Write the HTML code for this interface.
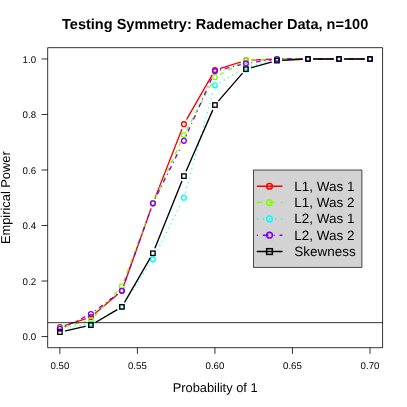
<!DOCTYPE html>
<html><head><meta charset="utf-8"><title>Testing Symmetry</title>
<style>html,body{margin:0;padding:0;background:#fff}body{width:407px;height:407px;overflow:hidden}</style></head>
<body>
<svg width="407" height="407" viewBox="0 0 407 407" style="display:block;will-change:transform;text-rendering:geometricPrecision;font-family:'Liberation Sans',sans-serif">
<rect width="407" height="407" fill="#fff"/>
<line x1="65.41" y1="325.33" x2="85.36" y2="318.90" stroke="#FF0000" stroke-width="1.35" stroke-linecap="round"/>
<line x1="95.32" y1="313.35" x2="117.47" y2="294.51" stroke="#FF0000" stroke-width="1.35" stroke-linecap="round"/>
<line x1="123.84" y1="285.27" x2="150.97" y2="208.78" stroke="#FF0000" stroke-width="1.35" stroke-linecap="round"/>
<line x1="155.03" y1="197.89" x2="181.80" y2="129.60" stroke="#FF0000" stroke-width="1.35" stroke-linecap="round"/>
<line x1="186.81" y1="119.14" x2="212.04" y2="75.10" stroke="#FF0000" stroke-width="1.35" stroke-linecap="round"/>
<line x1="220.48" y1="68.32" x2="240.39" y2="62.08" stroke="#FF0000" stroke-width="1.35" stroke-linecap="round"/>
<line x1="251.75" y1="60.08" x2="271.14" y2="59.21" stroke="#FF0000" stroke-width="1.35" stroke-linecap="round"/>
<line x1="282.76" y1="58.95" x2="302.14" y2="58.95" stroke="#FF0000" stroke-width="1.35" stroke-linecap="round"/>
<line x1="313.77" y1="58.95" x2="333.15" y2="58.95" stroke="#FF0000" stroke-width="1.35" stroke-linecap="round"/>
<line x1="344.78" y1="58.95" x2="364.16" y2="58.95" stroke="#FF0000" stroke-width="1.35" stroke-linecap="round"/>
<circle cx="59.88" cy="327.11" r="2.40" fill="none" stroke="#FF0000" stroke-width="1.35"/>
<circle cx="90.89" cy="317.12" r="2.40" fill="none" stroke="#FF0000" stroke-width="1.35"/>
<circle cx="121.90" cy="290.75" r="2.40" fill="none" stroke="#FF0000" stroke-width="1.35"/>
<circle cx="152.91" cy="203.30" r="2.40" fill="none" stroke="#FF0000" stroke-width="1.35"/>
<circle cx="183.92" cy="124.19" r="2.40" fill="none" stroke="#FF0000" stroke-width="1.35"/>
<circle cx="214.93" cy="70.05" r="2.40" fill="none" stroke="#FF0000" stroke-width="1.35"/>
<circle cx="245.94" cy="60.34" r="2.40" fill="none" stroke="#FF0000" stroke-width="1.35"/>
<circle cx="276.95" cy="58.95" r="2.40" fill="none" stroke="#FF0000" stroke-width="1.35"/>
<circle cx="307.96" cy="58.95" r="2.40" fill="none" stroke="#FF0000" stroke-width="1.35"/>
<circle cx="338.97" cy="58.95" r="2.40" fill="none" stroke="#FF0000" stroke-width="1.35"/>
<circle cx="369.98" cy="58.95" r="2.40" fill="none" stroke="#FF0000" stroke-width="1.35"/>
<line x1="65.50" y1="326.71" x2="85.28" y2="321.40" stroke="#80FF00" stroke-width="1.35" stroke-dasharray="3.63,6.06" stroke-linecap="round"/>
<line x1="94.83" y1="315.62" x2="117.96" y2="290.58" stroke="#80FF00" stroke-width="1.35" stroke-dasharray="3.63,6.06" stroke-linecap="round"/>
<line x1="123.93" y1="280.86" x2="150.87" y2="208.75" stroke="#80FF00" stroke-width="1.35" stroke-dasharray="3.63,6.06" stroke-linecap="round"/>
<line x1="155.31" y1="198.01" x2="181.52" y2="140.31" stroke="#80FF00" stroke-width="1.35" stroke-dasharray="3.63,6.06" stroke-linecap="round"/>
<line x1="186.67" y1="129.89" x2="212.18" y2="82.39" stroke="#80FF00" stroke-width="1.35" stroke-dasharray="3.63,6.06" stroke-linecap="round"/>
<line x1="220.03" y1="74.48" x2="240.84" y2="63.12" stroke="#80FF00" stroke-width="1.35" stroke-dasharray="3.63,6.06" stroke-linecap="round"/>
<line x1="251.75" y1="60.08" x2="271.14" y2="59.21" stroke="#80FF00" stroke-width="1.35" stroke-dasharray="3.63,6.06" stroke-linecap="round"/>
<line x1="282.76" y1="58.95" x2="302.14" y2="58.95" stroke="#80FF00" stroke-width="1.35" stroke-dasharray="3.63,6.06" stroke-linecap="round"/>
<line x1="313.77" y1="58.95" x2="333.15" y2="58.95" stroke="#80FF00" stroke-width="1.35" stroke-dasharray="3.63,6.06" stroke-linecap="round"/>
<line x1="344.78" y1="58.95" x2="364.16" y2="58.95" stroke="#80FF00" stroke-width="1.35" stroke-dasharray="3.63,6.06" stroke-linecap="round"/>
<circle cx="59.88" cy="328.22" r="2.40" fill="none" stroke="#80FF00" stroke-width="1.35"/>
<circle cx="90.89" cy="319.89" r="2.40" fill="none" stroke="#80FF00" stroke-width="1.35"/>
<circle cx="121.90" cy="286.30" r="2.40" fill="none" stroke="#80FF00" stroke-width="1.35"/>
<circle cx="152.91" cy="203.30" r="2.40" fill="none" stroke="#80FF00" stroke-width="1.35"/>
<circle cx="183.92" cy="135.01" r="2.40" fill="none" stroke="#80FF00" stroke-width="1.35"/>
<circle cx="214.93" cy="77.27" r="2.40" fill="none" stroke="#80FF00" stroke-width="1.35"/>
<circle cx="245.94" cy="60.34" r="2.40" fill="none" stroke="#80FF00" stroke-width="1.35"/>
<circle cx="276.95" cy="58.95" r="2.40" fill="none" stroke="#80FF00" stroke-width="1.35"/>
<circle cx="307.96" cy="58.95" r="2.40" fill="none" stroke="#80FF00" stroke-width="1.35"/>
<circle cx="338.97" cy="58.95" r="2.40" fill="none" stroke="#80FF00" stroke-width="1.35"/>
<circle cx="369.98" cy="58.95" r="2.40" fill="none" stroke="#80FF00" stroke-width="1.35"/>
<line x1="65.63" y1="327.62" x2="85.14" y2="324.66" stroke="#00FFFF" stroke-width="1.35" stroke-dasharray="0.00,4.85" stroke-linecap="round"/>
<line x1="95.99" y1="320.99" x2="116.80" y2="309.63" stroke="#00FFFF" stroke-width="1.35" stroke-dasharray="0.00,4.85" stroke-linecap="round"/>
<line x1="125.08" y1="301.98" x2="149.73" y2="264.24" stroke="#00FFFF" stroke-width="1.35" stroke-dasharray="0.00,4.85" stroke-linecap="round"/>
<line x1="155.52" y1="254.18" x2="181.31" y2="202.94" stroke="#00FFFF" stroke-width="1.35" stroke-dasharray="0.00,4.85" stroke-linecap="round"/>
<line x1="185.46" y1="192.15" x2="213.38" y2="90.93" stroke="#00FFFF" stroke-width="1.35" stroke-dasharray="0.00,4.85" stroke-linecap="round"/>
<line x1="219.97" y1="82.43" x2="240.89" y2="70.45" stroke="#00FFFF" stroke-width="1.35" stroke-dasharray="0.00,4.85" stroke-linecap="round"/>
<line x1="251.54" y1="66.00" x2="271.35" y2="60.50" stroke="#00FFFF" stroke-width="1.35" stroke-dasharray="0.00,4.85" stroke-linecap="round"/>
<line x1="282.76" y1="58.95" x2="302.14" y2="58.95" stroke="#00FFFF" stroke-width="1.35" stroke-dasharray="0.00,4.85" stroke-linecap="round"/>
<line x1="313.77" y1="58.95" x2="333.15" y2="58.95" stroke="#00FFFF" stroke-width="1.35" stroke-dasharray="0.00,4.85" stroke-linecap="round"/>
<line x1="344.78" y1="58.95" x2="364.16" y2="58.95" stroke="#00FFFF" stroke-width="1.35" stroke-dasharray="0.00,4.85" stroke-linecap="round"/>
<circle cx="59.88" cy="328.50" r="2.40" fill="none" stroke="#00FFFF" stroke-width="1.35"/>
<circle cx="90.89" cy="323.78" r="2.40" fill="none" stroke="#00FFFF" stroke-width="1.35"/>
<circle cx="121.90" cy="306.85" r="2.40" fill="none" stroke="#00FFFF" stroke-width="1.35"/>
<circle cx="152.91" cy="259.38" r="2.40" fill="none" stroke="#00FFFF" stroke-width="1.35"/>
<circle cx="183.92" cy="197.75" r="2.40" fill="none" stroke="#00FFFF" stroke-width="1.35"/>
<circle cx="214.93" cy="85.32" r="2.40" fill="none" stroke="#00FFFF" stroke-width="1.35"/>
<circle cx="245.94" cy="67.56" r="2.40" fill="none" stroke="#00FFFF" stroke-width="1.35"/>
<circle cx="276.95" cy="58.95" r="2.40" fill="none" stroke="#00FFFF" stroke-width="1.35"/>
<circle cx="307.96" cy="58.95" r="2.40" fill="none" stroke="#00FFFF" stroke-width="1.35"/>
<circle cx="338.97" cy="58.95" r="2.40" fill="none" stroke="#00FFFF" stroke-width="1.35"/>
<circle cx="369.98" cy="58.95" r="2.40" fill="none" stroke="#00FFFF" stroke-width="1.35"/>
<line x1="65.13" y1="326.28" x2="85.64" y2="316.56" stroke="#8000FF" stroke-width="1.35" stroke-dasharray="0.00,4.85,3.63,4.85" stroke-linecap="round"/>
<line x1="95.54" y1="310.57" x2="117.25" y2="294.24" stroke="#8000FF" stroke-width="1.35" stroke-dasharray="0.00,4.85,3.63,4.85" stroke-linecap="round"/>
<line x1="123.84" y1="285.27" x2="150.97" y2="208.78" stroke="#8000FF" stroke-width="1.35" stroke-dasharray="0.00,4.85,3.63,4.85" stroke-linecap="round"/>
<line x1="155.50" y1="198.09" x2="181.33" y2="146.05" stroke="#8000FF" stroke-width="1.35" stroke-dasharray="0.00,4.85,3.63,4.85" stroke-linecap="round"/>
<line x1="186.28" y1="135.53" x2="212.56" y2="76.48" stroke="#8000FF" stroke-width="1.35" stroke-dasharray="0.00,4.85,3.63,4.85" stroke-linecap="round"/>
<line x1="220.57" y1="69.75" x2="240.30" y2="64.81" stroke="#8000FF" stroke-width="1.35" stroke-dasharray="0.00,4.85,3.63,4.85" stroke-linecap="round"/>
<line x1="251.69" y1="62.57" x2="271.19" y2="59.77" stroke="#8000FF" stroke-width="1.35" stroke-dasharray="0.00,4.85,3.63,4.85" stroke-linecap="round"/>
<line x1="282.76" y1="58.95" x2="302.14" y2="58.95" stroke="#8000FF" stroke-width="1.35" stroke-dasharray="0.00,4.85,3.63,4.85" stroke-linecap="round"/>
<line x1="313.77" y1="58.95" x2="333.15" y2="58.95" stroke="#8000FF" stroke-width="1.35" stroke-dasharray="0.00,4.85,3.63,4.85" stroke-linecap="round"/>
<line x1="344.78" y1="58.95" x2="364.16" y2="58.95" stroke="#8000FF" stroke-width="1.35" stroke-dasharray="0.00,4.85,3.63,4.85" stroke-linecap="round"/>
<circle cx="59.88" cy="328.78" r="2.40" fill="none" stroke="#8000FF" stroke-width="1.35"/>
<circle cx="90.89" cy="314.06" r="2.40" fill="none" stroke="#8000FF" stroke-width="1.35"/>
<circle cx="121.90" cy="290.75" r="2.40" fill="none" stroke="#8000FF" stroke-width="1.35"/>
<circle cx="152.91" cy="203.30" r="2.40" fill="none" stroke="#8000FF" stroke-width="1.35"/>
<circle cx="183.92" cy="140.84" r="2.40" fill="none" stroke="#8000FF" stroke-width="1.35"/>
<circle cx="214.93" cy="71.16" r="2.40" fill="none" stroke="#8000FF" stroke-width="1.35"/>
<circle cx="245.94" cy="63.39" r="2.40" fill="none" stroke="#8000FF" stroke-width="1.35"/>
<circle cx="276.95" cy="58.95" r="2.40" fill="none" stroke="#8000FF" stroke-width="1.35"/>
<circle cx="307.96" cy="58.95" r="2.40" fill="none" stroke="#8000FF" stroke-width="1.35"/>
<circle cx="338.97" cy="58.95" r="2.40" fill="none" stroke="#8000FF" stroke-width="1.35"/>
<circle cx="369.98" cy="58.95" r="2.40" fill="none" stroke="#8000FF" stroke-width="1.35"/>
<line x1="65.55" y1="330.84" x2="85.22" y2="326.44" stroke="#000000" stroke-width="1.35" stroke-linecap="round"/>
<line x1="95.90" y1="322.21" x2="116.89" y2="309.80" stroke="#000000" stroke-width="1.35" stroke-linecap="round"/>
<line x1="124.81" y1="301.81" x2="150.00" y2="258.30" stroke="#000000" stroke-width="1.35" stroke-linecap="round"/>
<line x1="155.08" y1="247.87" x2="181.75" y2="181.49" stroke="#000000" stroke-width="1.35" stroke-linecap="round"/>
<line x1="186.24" y1="170.77" x2="212.60" y2="110.36" stroke="#000000" stroke-width="1.35" stroke-linecap="round"/>
<line x1="218.73" y1="100.64" x2="242.13" y2="73.62" stroke="#000000" stroke-width="1.35" stroke-linecap="round"/>
<line x1="251.54" y1="67.67" x2="271.35" y2="62.17" stroke="#000000" stroke-width="1.35" stroke-linecap="round"/>
<line x1="282.75" y1="60.30" x2="302.15" y2="59.26" stroke="#000000" stroke-width="1.35" stroke-linecap="round"/>
<line x1="313.77" y1="58.95" x2="333.15" y2="58.95" stroke="#000000" stroke-width="1.35" stroke-linecap="round"/>
<line x1="344.78" y1="58.95" x2="364.16" y2="58.95" stroke="#000000" stroke-width="1.35" stroke-linecap="round"/>
<rect x="57.68" y="329.91" width="4.40" height="4.40" fill="none" stroke="#000000" stroke-width="1.35"/>
<rect x="88.69" y="322.97" width="4.40" height="4.40" fill="none" stroke="#000000" stroke-width="1.35"/>
<rect x="119.70" y="304.65" width="4.40" height="4.40" fill="none" stroke="#000000" stroke-width="1.35"/>
<rect x="150.71" y="251.07" width="4.40" height="4.40" fill="none" stroke="#000000" stroke-width="1.35"/>
<rect x="181.72" y="173.90" width="4.40" height="4.40" fill="none" stroke="#000000" stroke-width="1.35"/>
<rect x="212.73" y="102.83" width="4.40" height="4.40" fill="none" stroke="#000000" stroke-width="1.35"/>
<rect x="243.74" y="67.02" width="4.40" height="4.40" fill="none" stroke="#000000" stroke-width="1.35"/>
<rect x="274.75" y="58.42" width="4.40" height="4.40" fill="none" stroke="#000000" stroke-width="1.35"/>
<rect x="305.76" y="56.75" width="4.40" height="4.40" fill="none" stroke="#000000" stroke-width="1.35"/>
<rect x="336.77" y="56.75" width="4.40" height="4.40" fill="none" stroke="#000000" stroke-width="1.35"/>
<rect x="367.78" y="56.75" width="4.40" height="4.40" fill="none" stroke="#000000" stroke-width="1.35"/>
<line x1="47.68" x2="382.58" y1="322.67" y2="322.67" stroke="#000" stroke-width="0.80"/>
<rect x="47.68" y="47.68" width="334.90" height="300.02" fill="none" stroke="#000" stroke-width="0.80" stroke-linejoin="round"/>
<line x1="59.88" x2="59.88" y1="347.69" y2="353.89" stroke="#000" stroke-width="0.80"/>
<text x="59.88" y="368.9" font-size="9.69" text-anchor="middle">0.50</text>
<line x1="137.40" x2="137.40" y1="347.69" y2="353.89" stroke="#000" stroke-width="0.80"/>
<text x="137.40" y="368.9" font-size="9.69" text-anchor="middle">0.55</text>
<line x1="214.93" x2="214.93" y1="347.69" y2="353.89" stroke="#000" stroke-width="0.80"/>
<text x="214.93" y="368.9" font-size="9.69" text-anchor="middle">0.60</text>
<line x1="292.45" x2="292.45" y1="347.69" y2="353.89" stroke="#000" stroke-width="0.80"/>
<text x="292.45" y="368.9" font-size="9.69" text-anchor="middle">0.65</text>
<line x1="369.98" x2="369.98" y1="347.69" y2="353.89" stroke="#000" stroke-width="0.80"/>
<text x="369.98" y="368.9" font-size="9.69" text-anchor="middle">0.70</text>
<line x1="41.48" x2="47.68" y1="336.55" y2="336.55" stroke="#000" stroke-width="0.80"/>
<text x="36.05" y="340.10" font-size="9.69" text-anchor="end">0.0</text>
<line x1="41.48" x2="47.68" y1="281.03" y2="281.03" stroke="#000" stroke-width="0.80"/>
<text x="36.05" y="284.58" font-size="9.69" text-anchor="end">0.2</text>
<line x1="41.48" x2="47.68" y1="225.51" y2="225.51" stroke="#000" stroke-width="0.80"/>
<text x="36.05" y="229.06" font-size="9.69" text-anchor="end">0.4</text>
<line x1="41.48" x2="47.68" y1="169.99" y2="169.99" stroke="#000" stroke-width="0.80"/>
<text x="36.05" y="173.54" font-size="9.69" text-anchor="end">0.6</text>
<line x1="41.48" x2="47.68" y1="114.47" y2="114.47" stroke="#000" stroke-width="0.80"/>
<text x="36.05" y="118.02" font-size="9.69" text-anchor="end">0.8</text>
<line x1="41.48" x2="47.68" y1="58.95" y2="58.95" stroke="#000" stroke-width="0.80"/>
<text x="36.05" y="62.50" font-size="9.69" text-anchor="end">1.0</text>
<text x="215.13" y="391.6" font-size="12.85" text-anchor="middle">Probability of 1</text>
<text transform="translate(10.3,197.69) rotate(-90)" font-size="12.85" text-anchor="middle">Empirical Power</text>
<text x="215.13" y="29.0" font-size="14.54" font-weight="bold" text-anchor="middle">Testing Symmetry: Rademacher Data, n=100</text>
<rect x="253.5" y="170.0" width="108.40" height="97.45" fill="#D3D3D3" stroke="#000" stroke-width="0.7" stroke-linejoin="round"/>
<line x1="257.4" x2="282.0" y1="186.25" y2="186.25" stroke="#FF0000" stroke-width="1.51" stroke-linecap="round"/>
<circle cx="269.5" cy="186.25" r="2.85" fill="none" stroke="#FF0000" stroke-width="1.51"/>
<text x="294.3" y="190.75" font-size="13.47">L1, Was 1</text>
<line x1="257.4" x2="282.0" y1="202.57" y2="202.57" stroke="#80FF00" stroke-width="1.51" stroke-dasharray="4.54,7.57" stroke-linecap="round"/>
<circle cx="269.5" cy="202.57" r="2.85" fill="none" stroke="#80FF00" stroke-width="1.51"/>
<text x="294.3" y="207.07" font-size="13.47">L1, Was 2</text>
<line x1="257.4" x2="282.0" y1="218.90" y2="218.90" stroke="#00FFFF" stroke-width="1.51" stroke-dasharray="0.00,6.06" stroke-linecap="round"/>
<circle cx="269.5" cy="218.90" r="2.85" fill="none" stroke="#00FFFF" stroke-width="1.51"/>
<text x="294.3" y="223.40" font-size="13.47">L2, Was 1</text>
<line x1="257.4" x2="282.0" y1="235.22" y2="235.22" stroke="#8000FF" stroke-width="1.51" stroke-dasharray="0.00,6.06,4.54,6.06" stroke-linecap="round"/>
<circle cx="269.5" cy="235.22" r="2.85" fill="none" stroke="#8000FF" stroke-width="1.51"/>
<text x="294.3" y="239.72" font-size="13.47">L2, Was 2</text>
<line x1="257.4" x2="282.0" y1="251.55" y2="251.55" stroke="#000000" stroke-width="1.51" stroke-linecap="round"/>
<rect x="266.65" y="248.70" width="5.70" height="5.70" fill="none" stroke="#000000" stroke-width="1.51"/>
<text x="294.3" y="256.05" font-size="13.47">Skewness</text>
</svg>
</body></html>
